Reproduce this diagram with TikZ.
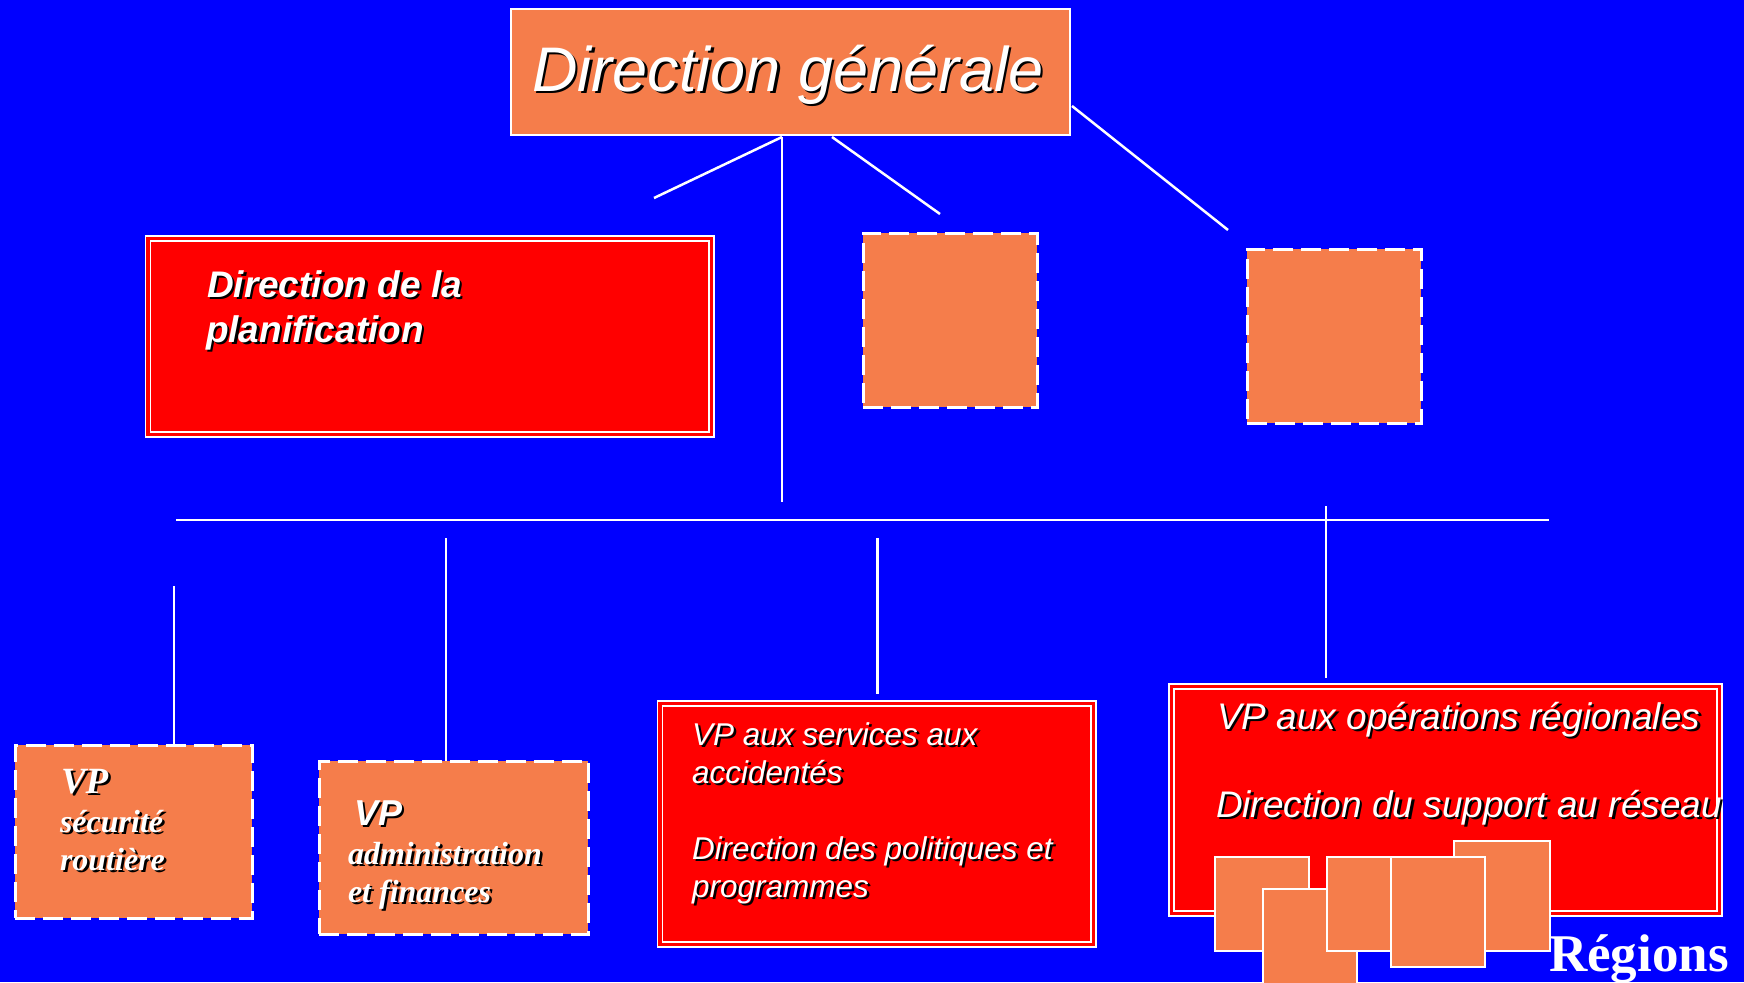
\documentclass[tikz,border=0pt]{standalone}
\usepackage{fontspec}
\setmainfont{Liberation Serif}
\setsansfont{Liberation Sans}
\usetikzlibrary{fit}
\definecolor{bgblue}{RGB}{0,0,255}
\definecolor{orng}{RGB}{245,125,75}
\definecolor{rred}{RGB}{255,0,0}
\tikzset{
  conn/.style={draw=white, line width=2.5pt},
  dbox/.style={rectangle, fill=rred, draw=white, double=rred, double distance=3.5pt, line width=1.7pt, inner sep=0pt, outer sep=0pt},
  obox/.style={rectangle, fill=orng, draw=white, line width=2.2pt, inner sep=0pt, outer sep=0pt},
  dashbox/.style={rectangle, fill=orng, draw=white, line width=3pt, dash pattern=on 20pt off 8pt, inner sep=0pt, outer sep=0pt},
  sqbox/.style={rectangle, fill=orng, draw=white, line width=2.5pt, inner sep=0pt, outer sep=0pt},
  lbl/.style={anchor=base west, inner sep=0pt, outer sep=0pt, text=white},
  shd/.style={anchor=base west, inner sep=0pt, outer sep=0pt, text=black},
}
\newcommand\shtxt[5]{%
  \node[shd] at (#2+2.5,#3+2.5) {#4#5};
  \node[lbl] (#1) at (#2,#3) {#4#5};}
\newcommand\fsb[1]{\fontsize{#1}{#1}\selectfont\sffamily\bfseries\itshape}
\newcommand\fsi[1]{\fontsize{#1}{#1}\selectfont\sffamily\itshape}
\newcommand\frb[1]{\fontsize{#1}{#1}\selectfont\rmfamily\bfseries\itshape}
\begin{document}
\begin{tikzpicture}[x=1pt,y=-1pt]
\fill[bgblue] (0,0) rectangle (1744,982);
\useasboundingbox (0,0) rectangle (1744,982);

% connectors
\coordinate (t1) at (782,137);
\coordinate (e1) at (654,198);
\coordinate (v1) at (782,502);
\coordinate (t2) at (832,137);
\coordinate (e2) at (940,214);
\coordinate (t3) at (1072,106);
\coordinate (e3) at (1228,230);
\coordinate (h1) at (176,520);
\coordinate (h2) at (1549,520);
\coordinate (r1) at (1326,506);
\coordinate (r2) at (1326,678);
\coordinate (c1) at (174,586);
\coordinate (c2) at (446,538);
\coordinate (c3) at (877.5,538);
\coordinate (c3e) at (877.5,694);

% top box
\node[obox, fit={(511,9) (1070,135)}] (dg) {};
\node[shd, anchor=base] at (790.5,93.5) {\fsi{63}Direction générale};
\node[lbl, anchor=base] (dgt) at (788,91) {\fsi{63}Direction générale};

\draw[conn] (t1) -- (e1);
\draw[conn] (t1) -- (v1);
\draw[conn] (t2) -- (e2);
\draw[conn] (t3) -- (e3);
\draw[conn] (h1) -- (h2);
\draw[conn] (r1) -- (r2);

% second level
\node[dbox, fit={(148,238.5) (711.5,434.5)}] (plan) {};
\shtxt{plan1}{207}{297}{\fsb{37}}{Direction de la}
\shtxt{plan2}{206}{342}{\fsb{37}}{planification}
\node[dashbox, fit={(863,233) (1037,407)}] (x1) {};
\node[dashbox, fit={(1247,249) (1421,423)}] (x2) {};

% bottom boxes
\node[dashbox, fit={(15,745) (252,918)}] (vs) {};
\node[dashbox, fit={(319,761) (588,934)}] (va) {};
\node[dbox, fit={(660,703.5) (1093.5,944.5)}] (vsa) {};
\node[dbox, fit={(1171.5,686.5) (1719.5,913.5)}] (vo) {};

\draw[conn] (c1) -- (c1 |- vs.north);
\draw[conn] (c2) -- (c2 |- va.north);
\draw[conn] (c3) -- (c3e);

\shtxt{vs1}{61}{793}{\frb{37}}{VP}
\shtxt{vs2}{60}{832}{\frb{32}}{sécurité}
\shtxt{vs3}{60}{870}{\frb{32}}{routière}

\shtxt{va1}{354}{825}{\fsb{36}}{VP}
\shtxt{va2}{348}{864}{\frb{32}}{administration}
\shtxt{va3}{348}{902}{\frb{32}}{et finances}

\shtxt{vsa1}{692}{745}{\fsi{31.5}}{VP aux services aux}
\shtxt{vsa2}{692}{783}{\fsi{31.5}}{accidentés}
\shtxt{vsa3}{692}{859}{\fsi{31.5}}{Direction des politiques et}
\shtxt{vsa4}{692}{897}{\fsi{31.5}}{programmes}

\shtxt{vo1}{1217}{729}{\fsi{37}}{VP aux opérations régionales}
\begin{scope}
\clip (1100,700) rectangle (1723,900);
\shtxt{vo2}{1216}{817}{\fsi{37}}{Direction du support au réseau}
\end{scope}

% regions squares
\node[sqbox, fit={(1215,857) (1309,951)}] (sa) {};
\node[sqbox, fit={(1263,889) (1357,1000)}] (sb) {};
\node[sqbox, fit={(1327,857) (1421,951)}] (sc) {};
\node[sqbox, fit={(1454,841) (1550,951)}] (se) {};
\node[sqbox, fit={(1391,857) (1485,967)}] (sd) {};
\node[lbl] (reg) at (1549,971) {\fontsize{53}{53}\selectfont\rmfamily\bfseries Régions};
\end{tikzpicture}
\end{document}
